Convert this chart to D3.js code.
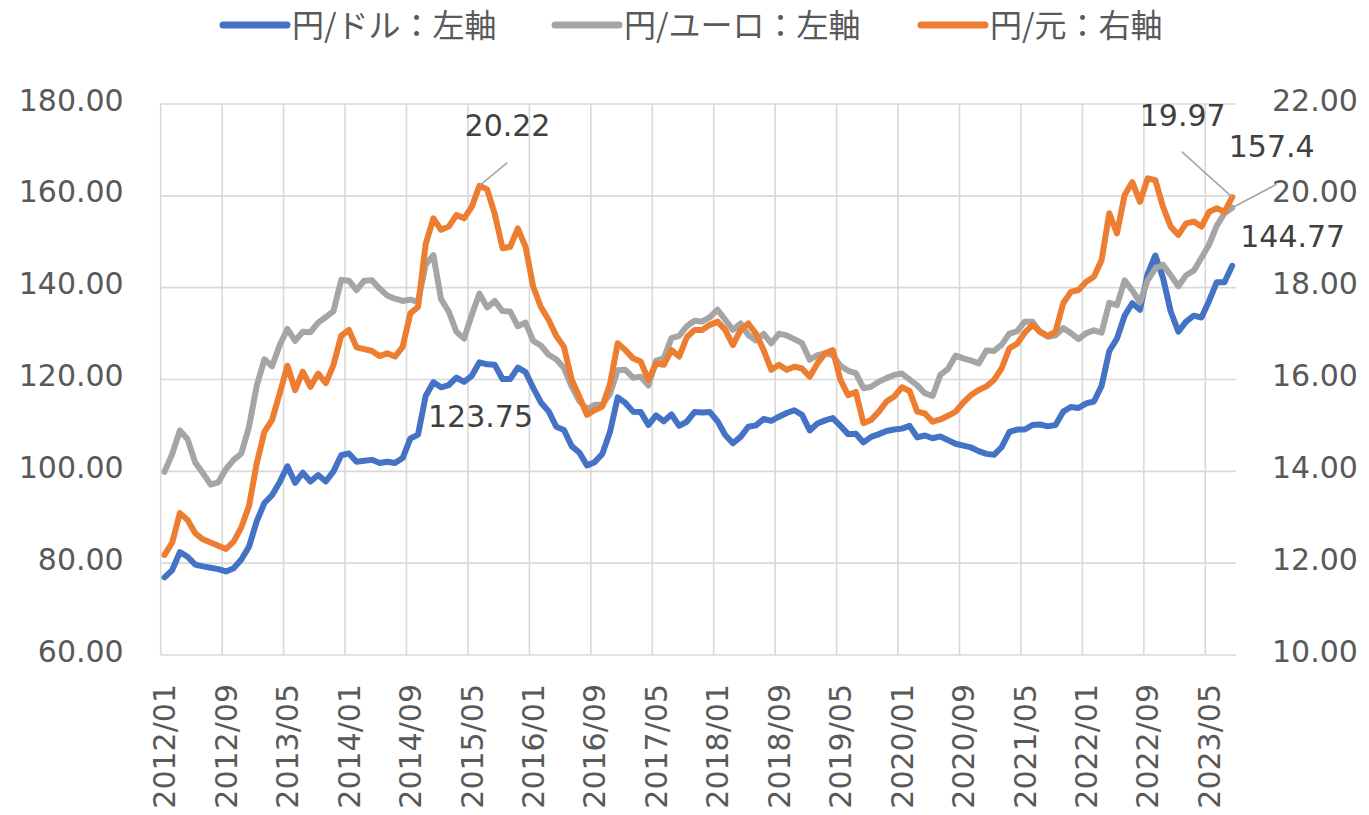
<!DOCTYPE html>
<html>
<head>
<meta charset="utf-8">
<style>
  body { margin: 0; background: #fff; }
  svg { display: block; }
  .axis text { font-family: "DejaVu Sans", Verdana, sans-serif; font-size: 30px; fill: #595959; }
  .legend text { font-family: "Noto Sans CJK JP", sans-serif; font-size: 32px; fill: #595959; }
  .dlabel { font-family: "DejaVu Sans", Verdana, sans-serif; font-size: 30px; fill: #404040; }
</style>
</head>
<body>
<script src="https://d3js.org/d3.v7.min.js"></script>
<script>
// monthly averages, 2012/01 .. 2023/08
const startYear = 2012, monthCount = 140;
const months = [];
for (let k = 0; k < monthCount; k++) {
  const y = startYear + Math.floor(k / 12), m = k % 12 + 1;
  months.push(y + '/' + String(m).padStart(2, '0'));
}

const tickLabels = ['2012/01','2012/09','2013/05','2014/01','2014/09','2015/05','2016/01','2016/09','2017/05',
  '2018/01','2018/09','2019/05','2020/01','2020/09','2021/05','2022/01','2022/09','2023/05'];

// 円/ドル (left axis)
const usdJpy = [
  76.9, 78.5, 82.4, 81.4, 79.7, 79.3, 79.0, 78.7, 78.2, 78.9, 80.8, 83.6,
  89.1, 93.1, 94.8, 97.7, 101.1, 97.5, 99.7, 97.8, 99.2, 97.8, 100.0, 103.5,
  103.9, 102.1, 102.3, 102.5, 101.8, 102.1, 101.8, 102.9, 107.1, 108.0, 116.4, 119.4,
  118.3, 118.8, 120.4, 119.5, 120.8, 123.75, 123.3, 123.2, 120.1, 120.1, 122.6, 121.6,
  118.2, 115.0, 113.1, 109.7, 109.0, 105.5, 104.1, 101.3, 102.0, 103.8, 108.6, 116.1,
  114.9, 113.0, 112.9, 110.1, 112.2, 110.9, 112.4, 109.9, 110.8, 112.9, 112.8, 112.9,
  110.9, 107.9, 106.1, 107.5, 109.7, 110.0, 111.4, 111.0, 111.9, 112.7, 113.3, 112.3,
  108.9, 110.4, 111.1, 111.6, 109.9, 108.1, 108.2, 106.3, 107.5, 108.1, 108.8, 109.1,
  109.3, 109.9, 107.4, 107.8, 107.2, 107.6, 106.8, 106.0, 105.6, 105.2, 104.4, 103.8,
  103.6, 105.3, 108.6, 109.1, 109.1, 110.1, 110.2, 109.8, 110.1, 113.0, 114.0, 113.8,
  114.8, 115.2, 118.6, 126.2, 128.9, 133.9, 136.6, 135.2, 143.0, 147.0, 142.1, 134.8,
  130.4, 132.6, 133.9, 133.5, 137.1, 141.2, 141.2, 144.77
];

// 円/ユーロ (left axis)
const eurJpy = [
  99.9, 103.8, 108.9, 107.0, 101.9, 99.6, 97.1, 97.6, 100.5, 102.5, 103.9, 109.7,
  118.6, 124.4, 122.9, 127.5, 131.0, 128.4, 130.4, 130.3, 132.4, 133.6, 134.9, 141.7,
  141.5, 139.5, 141.5, 141.6, 139.8, 138.3, 137.6, 137.1, 137.4, 136.9, 145.0, 147.1,
  137.5, 134.8, 130.4, 128.9, 134.1, 138.7, 135.7, 137.1, 134.9, 134.8, 131.6, 132.4,
  128.4, 127.4, 125.4, 124.4, 122.5, 118.5, 115.3, 113.5, 114.5, 114.5, 116.9, 122.0,
  122.1, 120.4, 120.6, 118.7, 124.1, 124.6, 129.0, 129.5, 131.6, 132.8, 132.6, 133.6,
  135.2, 133.0, 130.8, 132.2, 129.7, 128.5, 129.9, 127.9, 130.0, 129.6, 128.8, 127.9,
  124.3, 125.3, 125.7, 125.3, 123.0, 121.9, 121.4, 118.1, 118.4, 119.5, 120.3, 121.0,
  121.3, 120.0, 118.7, 117.0, 116.4, 121.0, 122.3, 125.2, 124.6, 124.1, 123.5, 126.3,
  126.2, 127.6, 130.0, 130.5, 132.6, 132.6, 130.3, 129.3, 129.6, 131.2, 130.1, 128.8,
  130.1, 130.7, 130.2, 136.7, 136.2, 141.6, 139.4, 136.8, 141.6, 144.2, 145.0, 142.7,
  140.3, 142.7, 143.7, 146.5, 149.4, 153.5, 156.2, 157.4
];

// 円/元 (right axis)
const cnyJpy = [
  12.18, 12.45, 13.09, 12.94, 12.65, 12.52, 12.45, 12.38, 12.31, 12.47, 12.78, 13.25,
  14.17, 14.86, 15.12, 15.70, 16.30, 15.77, 16.17, 15.84, 16.13, 15.92, 16.32, 16.95,
  17.08, 16.70, 16.66, 16.62, 16.51, 16.57, 16.50, 16.71, 17.44, 17.58, 18.95, 19.51,
  19.26, 19.33, 19.58, 19.51, 19.76, 20.22, 20.14, 19.60, 18.86, 18.89, 19.29, 18.89,
  18.02, 17.58, 17.30, 16.95, 16.71, 16.00, 15.63, 15.23, 15.33, 15.41, 15.90, 16.79,
  16.64, 16.46, 16.39, 15.99, 16.35, 16.32, 16.64, 16.50, 16.92, 17.08, 17.08, 17.19,
  17.26, 17.08, 16.75, 17.08, 17.22, 17.00, 16.64, 16.21, 16.32, 16.21, 16.28, 16.24,
  16.06, 16.35, 16.57, 16.64, 15.99, 15.66, 15.73, 15.05, 15.12, 15.30, 15.52, 15.63,
  15.83, 15.75, 15.30, 15.26, 15.08, 15.13, 15.21, 15.30, 15.50, 15.66, 15.77, 15.85,
  15.99, 16.25, 16.68, 16.78, 17.02, 17.19, 17.04, 16.95, 17.04, 17.66, 17.91, 17.95,
  18.13, 18.24, 18.60, 19.62, 19.18, 20.02, 20.30, 19.87, 20.38, 20.34, 19.76, 19.33,
  19.15, 19.40, 19.44, 19.33, 19.65, 19.73, 19.65, 19.97
];

const leftTicks = [60, 80, 100, 120, 140, 160, 180];
const rightTicks = [10, 12, 14, 16, 18, 20, 22];

const series = [
  { key: 'usd', name: '円/ドル：左軸', values: usdJpy, axis: 'left', color: '#4472C4' },
  { key: 'eur', name: '円/ユーロ：左軸', values: eurJpy, axis: 'left', color: '#A5A5A5' },
  { key: 'cny', name: '円/元：右軸', values: cnyJpy, axis: 'right', color: '#ED7D31' }
];

const width = 1369, height = 815;
const plot = { left: 160.7, right: 1236, top: 104, bottom: 655 };

const svg = d3.select('body').append('svg')
  .attr('width', width)
  .attr('height', height);

const x = d3.scaleBand().domain(months).range([plot.left, plot.right]).paddingInner(0).paddingOuter(0);
const cx = m => x(m) + x.bandwidth() / 2;
const yL = d3.scaleLinear().domain([60, 180]).range([plot.bottom, plot.top]);
const yR = d3.scaleLinear().domain([10, 22]).range([plot.bottom, plot.top]);

// gridlines
const grid = svg.append('g').attr('stroke', '#D9D9D9').attr('stroke-width', 1.6);
grid.selectAll('line.h').data(leftTicks).join('line')
  .attr('class', 'h')
  .attr('x1', plot.left).attr('x2', plot.right)
  .attr('y1', d => yL(d)).attr('y2', d => yL(d));
grid.selectAll('line.v').data(tickLabels).join('line')
  .attr('class', 'v')
  .attr('x1', d => x(d)).attr('x2', d => x(d))
  .attr('y1', plot.top).attr('y2', plot.bottom);

// y axes
svg.append('g').attr('class', 'axis')
  .attr('transform', `translate(${plot.left},0)`)
  .call(d3.axisLeft(yL).tickValues(leftTicks).tickFormat(d3.format('.2f')).tickSize(0).tickPadding(37))
  .call(g => g.select('.domain').remove())
  .call(g => g.selectAll('text').attr('dy', '0.2em'));

svg.append('g').attr('class', 'axis')
  .attr('transform', `translate(${plot.right},0)`)
  .call(d3.axisRight(yR).tickValues(rightTicks).tickFormat(d3.format('.2f')).tickSize(0).tickPadding(36))
  .call(g => g.select('.domain').remove())
  .call(g => g.selectAll('text').attr('dy', '0.2em'));

// x axis labels (rotated)
const xAxis = svg.append('g').attr('class', 'axis');
xAxis.selectAll('text').data(tickLabels).join('text')
  .attr('transform', d => `translate(${cx(d)},684) rotate(-90)`)
  .attr('text-anchor', 'end')
  .attr('dy', '0.36em')
  .text(d => d);

// lines
for (const s of series) {
  const y = s.axis === 'left' ? yL : yR;
  const line = d3.line().x((d, i) => cx(months[i])).y(d => y(d));
  svg.append('path')
    .datum(s.values)
    .attr('fill', 'none')
    .attr('stroke', s.color)
    .attr('stroke-width', 6)
    .attr('stroke-linejoin', 'round')
    .attr('stroke-linecap', 'round')
    .attr('d', line);
}

// data labels
const labels = [
  { key: 'cny', i: 41, text: '20.22', lx: 507.5, ly: 136, leader: [507.3, 162.7] },
  { key: 'usd', i: 41, text: '123.75', lx: 480.5, ly: 427 },
  { key: 'cny', i: 139, text: '19.97', lx: 1182.7, ly: 126, leader: [1181.7, 151.7] },
  { key: 'eur', i: 139, text: '157.4', lx: 1271.7, ly: 157.3, leader: [1276.7, 184.3] },
  { key: 'usd', i: 139, text: '144.77', lx: 1292.7, ly: 246.7 }
];
for (const l of labels) {
  const s = series.find(d => d.key === l.key);
  const y = s.axis === 'left' ? yL : yR;
  const px = cx(months[l.i]), py = y(s.values[l.i]);
  if (l.leader) {
    svg.append('line')
      .attr('x1', l.leader[0]).attr('y1', l.leader[1])
      .attr('x2', px).attr('y2', py)
      .attr('stroke', '#A6A6A6').attr('stroke-width', 1.6);
  }
  svg.append('text').attr('class', 'dlabel')
    .attr('x', l.lx).attr('y', l.ly)
    .attr('text-anchor', 'middle')
    .text(l.text);
}

// legend
const legend = svg.append('g').attr('class', 'legend');
const legendX = [220, 552, 918];
series.forEach((s, k) => {
  const g = legend.append('g').attr('transform', `translate(${legendX[k]},25)`);
  g.append('line').attr('x1', 3).attr('x2', 67).attr('y1', 0).attr('y2', 0)
    .attr('stroke', s.color).attr('stroke-width', 7).attr('stroke-linecap', 'round');
  g.append('text').attr('x', 72).attr('y', 0).attr('dy', '0.36em').text(s.name);
});
</script>
</body>
</html>
